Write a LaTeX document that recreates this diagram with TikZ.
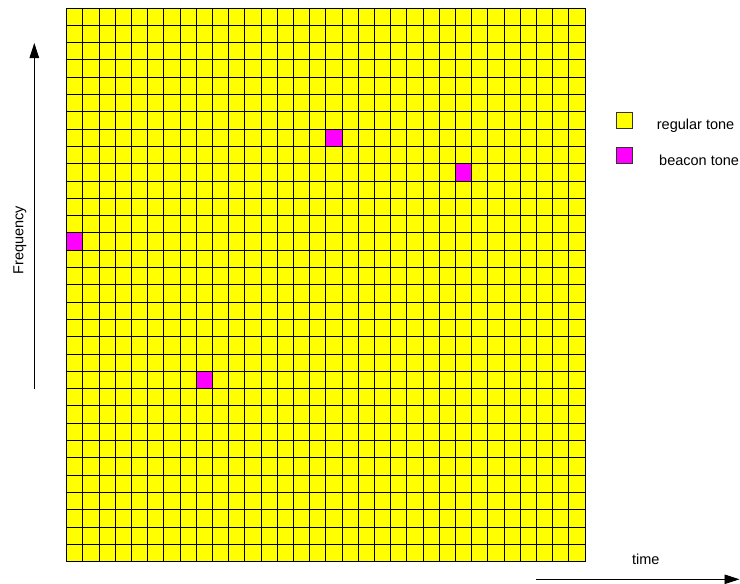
\documentclass[tikz,border=0pt]{standalone}
\usepackage{fontspec}
\setmainfont{Liberation Sans}
\usetikzlibrary{arrows.meta}
\definecolor{tonefill}{HTML}{FFFF00}
\definecolor{beaconfill}{HTML}{FF00FF}
\tikzset{
  gridline/.style={draw=black, line width=0.9pt},
  keybox/.style={draw=black!80, line width=0.6pt, minimum width=16pt, minimum height=15.6pt, inner sep=0pt},
  axisarrow/.style={draw=black, line width=0.9pt, -{Triangle[length=15pt, width=9.5pt]}},
}

\begin{document}
\begin{tikzpicture}[x=1pt, y=-1pt, font=\fontsize{14.5}{16}\selectfont]
    \useasboundingbox (0,0) rectangle (740,584);
    % Tone grid background (32 x 32)
    \fill[tonefill] (66.7,8) rectangle (585.1,561.6);
    % Beacon tones
    \foreach \c/\r in {16/7, 24/9, 0/13, 8/21}
        \fill[beaconfill] ({66.7+\c*16.2},{8+\r*17.3}) rectangle ++(16.2,17.3);
    % Grid lines
    \foreach \i in {0,...,32} {
        \draw[gridline] ({66.7+\i*16.2},8) -- ({66.7+\i*16.2},561.6);
        \draw[gridline] (66.7,{8+\i*17.3}) -- (585.1,{8+\i*17.3});
    }
    % Axes
    \coordinate (freqlow) at (34.3,389);
    \coordinate (freqhigh) at (34.3,43);
    \coordinate (timelow) at (536,579.3);
    \coordinate (timehigh) at (739.5,579.3);
    \draw[axisarrow] (freqlow) -- (freqhigh);
    \draw[axisarrow] (timelow) -- (timehigh);
    \node[rotate=90] (freqlabel) at (20,240) {Frequency};
    \node (timelabel) at (645.7,559) {time};
    % Legend
    \node[keybox, fill=tonefill] (regularkey) at (624.7,120.5) {};
    \node[keybox, fill=beaconfill] (beaconkey) at (624.7,155) {};
    \node[anchor=west, inner sep=0pt] (regulartext) at (656.7,125.5) {regular tone};
    \node[anchor=west, inner sep=0pt] (beacontext) at (659,160.5) {beacon tone};
\end{tikzpicture}
\end{document}
